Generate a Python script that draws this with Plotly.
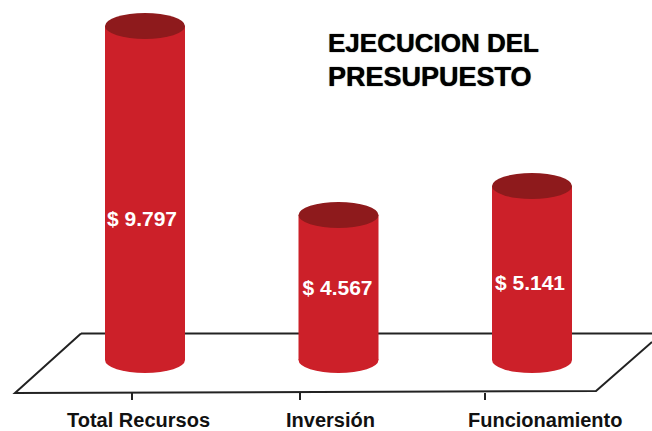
import plotly.graph_objects as go

categories = ["Total Recursos", "Inversión", "Funcionamiento"]
value_labels = ["$ 9.797", "$ 4.567", "$ 5.141"]
# Drawn column heights (the original is not strictly to scale)
drawn_values = [9797, 4252, 5104]
title_lines = ["EJECUCION DEL", "PRESUPUESTO"]

W, H = 652, 431
BASE_PX = 360.0          # pixel row of value 0
UNIT = 9797 / 334.0      # value units per pixel
STEP_PX = 193.5          # pixels between categories
FIRST_PX = 145.0         # pixel column of first category
BAR_W_PX = 80
RY_PX = 13
RED = "#CC2029"
DARK = "#8E1A1C"
INK = "#222222"

def px(x):
    return x / W
def py(y):
    return 1 - y / H

x_idx = list(range(len(categories)))
x_range = [-FIRST_PX / STEP_PX, (W - FIRST_PX) / STEP_PX]
y_range = [-(H - BASE_PX) * UNIT, BASE_PX * UNIT]
bar_w = BAR_W_PX / STEP_PX
ry = RY_PX * UNIT

fig = go.Figure()
fig.add_trace(go.Bar(x=x_idx, y=drawn_values, width=bar_w, marker=dict(color=RED, line_width=0),
                     hoverinfo="skip", showlegend=False))

label_dx = [-3, -1, -2]
label_dy = [221, 290, 285]
fig.add_trace(go.Scatter(
    x=[i + d / STEP_PX for i, d in zip(x_idx, label_dx)],
    y=[(BASE_PX - p) * UNIT for p in label_dy],
    mode="text", text=value_labels, textposition="middle center",
    textfont=dict(family="Liberation Sans", size=21, color="white", weight="bold"),
    hoverinfo="skip", showlegend=False))

shapes = []
shapes.append(dict(type="line", xref="paper", yref="paper", x0=px(81), y0=py(333.5), x1=px(652), y1=py(333.5),
                   line=dict(color=INK, width=2), layer="below"))
shapes.append(dict(type="path", xref="paper", yref="paper",
                   path=f"M {px(81)} {py(333.5)} L {px(15)} {py(393)} L {px(596)} {py(391)} L {px(652)} {py(342)}",
                   line=dict(color=INK, width=2), layer="below"))
for tick in [132, 300, 485]:
    shapes.append(dict(type="line", xref="paper", yref="paper", x0=px(tick), x1=px(tick), y0=py(393), y1=py(400),
                       line=dict(color=INK, width=2), layer="below"))
for i, v in zip(x_idx, drawn_values):
    shapes.append(dict(type="circle", xref="x", yref="y", x0=i - bar_w / 2, x1=i + bar_w / 2,
                       y0=-ry, y1=ry, fillcolor=RED, line_width=0, layer="below"))
    shapes.append(dict(type="circle", xref="x", yref="y", x0=i - bar_w / 2, x1=i + bar_w / 2,
                       y0=v - ry, y1=v + ry, fillcolor=DARK, line_width=0, layer="above"))

annotations = []
for name, cx in zip(categories, [138, 330, 545]):
    annotations.append(dict(text=f"<b>{name}</b>", xref="paper", yref="paper", x=px(cx), y=py(420),
                            showarrow=False, xanchor="center", yanchor="middle",
                            font=dict(family="Liberation Sans", size=20, color="#111111")))
for line, cy, size in zip(title_lines, [43.5, 77], [26, 27]):
    annotations.append(dict(text=f"<b>{line}</b>", xref="paper", yref="paper", x=px(326), y=py(cy),
                            showarrow=False, xanchor="left", yanchor="middle",
                            font=dict(family="Liberation Sans", size=size, color="#000000",
                                      shadow="0 0 1px #000000")))

fig.update_layout(
    width=W, height=H, margin=dict(l=0, r=0, t=0, b=0),
    paper_bgcolor="white", plot_bgcolor="rgba(0,0,0,0)",
    xaxis=dict(range=x_range, visible=False, fixedrange=True),
    yaxis=dict(range=y_range, visible=False, fixedrange=True),
    shapes=shapes, annotations=annotations, showlegend=False,
)
fig.write_html("out.html", config={"displayModeBar": False},
               post_script="document.body.style.margin='0';")
